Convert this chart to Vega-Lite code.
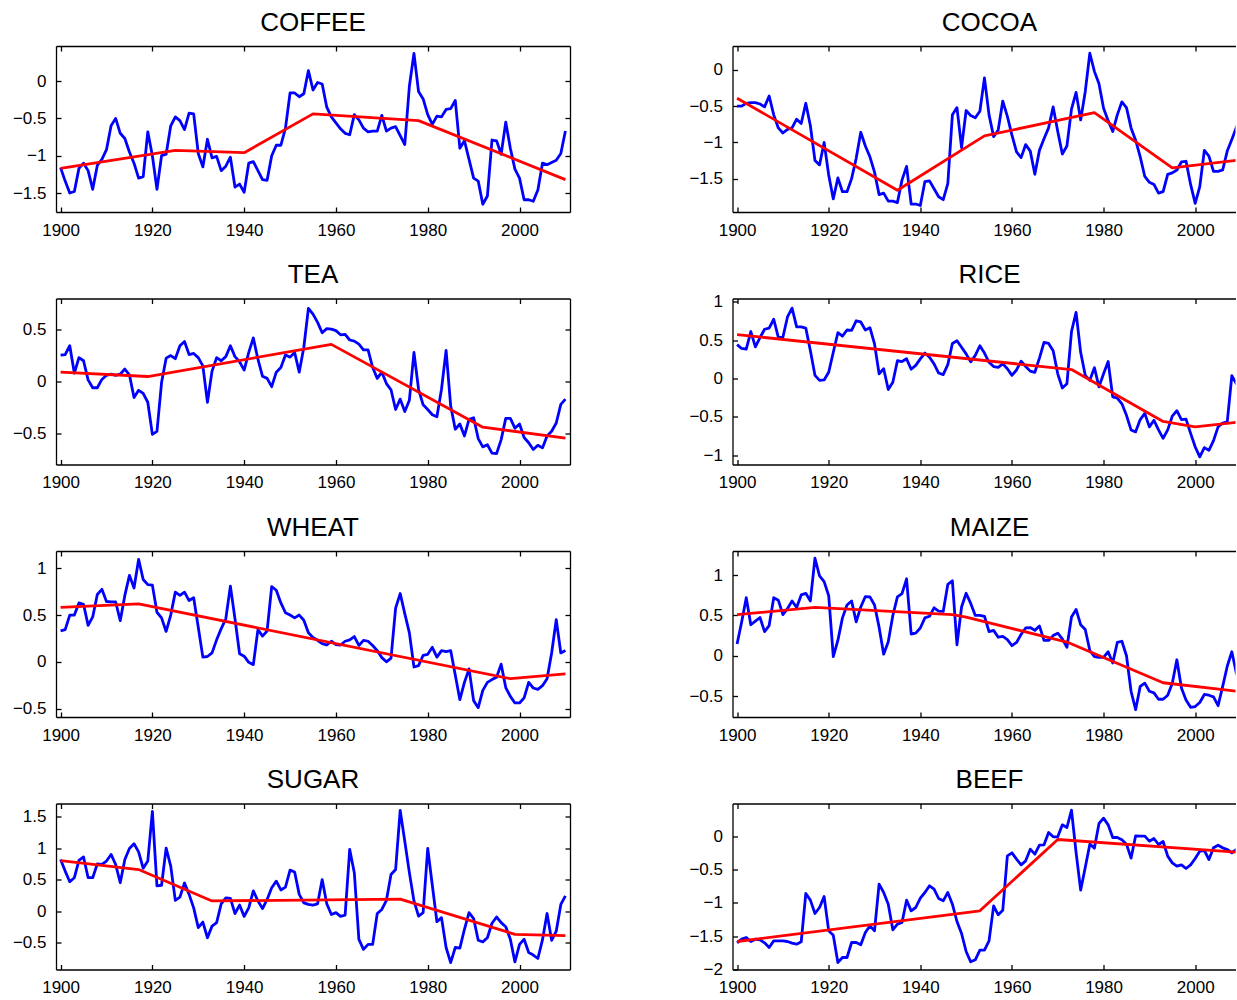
{
"$schema": "https://vega.github.io/schema/vega-lite/v6.json",
"padding": {"left": 12, "top": 9, "right": 0, "bottom": 2},
"background": "white",
"datasets": {
"COFFEE": [{"year":1900,"v":-1.16},{"year":1901,"v":-1.34},{"year":1902,"v":-1.5},{"year":1903,"v":-1.48},{"year":1904,"v":-1.17},{"year":1905,"v":-1.1},{"year":1906,"v":-1.2},{"year":1907,"v":-1.45},{"year":1908,"v":-1.13},{"year":1909,"v":-1.05},
{"year":1910,"v":-0.92},{"year":1911,"v":-0.6},{"year":1912,"v":-0.5},{"year":1913,"v":-0.7},{"year":1914,"v":-0.77},{"year":1915,"v":-0.95},{"year":1916,"v":-1.1},{"year":1917,"v":-1.3},{"year":1918,"v":-1.28},{"year":1919,"v":-0.68},
{"year":1920,"v":-1.0},{"year":1921,"v":-1.45},{"year":1922,"v":-1.0},{"year":1923,"v":-0.98},{"year":1924,"v":-0.6},{"year":1925,"v":-0.48},{"year":1926,"v":-0.53},{"year":1927,"v":-0.65},{"year":1928,"v":-0.43},{"year":1929,"v":-0.44},
{"year":1930,"v":-0.97},{"year":1931,"v":-1.15},{"year":1932,"v":-0.78},{"year":1933,"v":-1.03},{"year":1934,"v":-1.01},{"year":1935,"v":-1.2},{"year":1936,"v":-1.14},{"year":1937,"v":-1.02},{"year":1938,"v":-1.42},{"year":1939,"v":-1.38},
{"year":1940,"v":-1.49},{"year":1941,"v":-1.1},{"year":1942,"v":-1.08},{"year":1943,"v":-1.2},{"year":1944,"v":-1.32},{"year":1945,"v":-1.33},{"year":1946,"v":-1.0},{"year":1947,"v":-0.86},{"year":1948,"v":-0.86},{"year":1949,"v":-0.63},
{"year":1950,"v":-0.16},{"year":1951,"v":-0.16},{"year":1952,"v":-0.21},{"year":1953,"v":-0.17},{"year":1954,"v":0.14},{"year":1955,"v":-0.12},{"year":1956,"v":-0.02},{"year":1957,"v":-0.04},{"year":1958,"v":-0.35},{"year":1959,"v":-0.48},
{"year":1960,"v":-0.56},{"year":1961,"v":-0.64},{"year":1962,"v":-0.7},{"year":1963,"v":-0.72},{"year":1964,"v":-0.45},{"year":1965,"v":-0.52},{"year":1966,"v":-0.63},{"year":1967,"v":-0.68},{"year":1968,"v":-0.67},{"year":1969,"v":-0.67},
{"year":1970,"v":-0.46},{"year":1971,"v":-0.67},{"year":1972,"v":-0.63},{"year":1973,"v":-0.61},{"year":1974,"v":-0.73},{"year":1975,"v":-0.85},{"year":1976,"v":-0.07},{"year":1977,"v":0.37},{"year":1978,"v":-0.14},{"year":1979,"v":-0.24},
{"year":1980,"v":-0.45},{"year":1981,"v":-0.58},{"year":1982,"v":-0.47},{"year":1983,"v":-0.48},{"year":1984,"v":-0.38},{"year":1985,"v":-0.37},{"year":1986,"v":-0.26},{"year":1987,"v":-0.9},{"year":1988,"v":-0.8},{"year":1989,"v":-1.05},
{"year":1990,"v":-1.3},{"year":1991,"v":-1.34},{"year":1992,"v":-1.65},{"year":1993,"v":-1.54},{"year":1994,"v":-0.79},{"year":1995,"v":-0.8},{"year":1996,"v":-0.98},{"year":1997,"v":-0.55},{"year":1998,"v":-0.9},{"year":1999,"v":-1.18},
{"year":2000,"v":-1.3},{"year":2001,"v":-1.59},{"year":2002,"v":-1.59},{"year":2003,"v":-1.61},{"year":2004,"v":-1.46},{"year":2005,"v":-1.1},{"year":2006,"v":-1.12},{"year":2007,"v":-1.09},{"year":2008,"v":-1.06},{"year":2009,"v":-0.97},{"year":2010,"v":-0.67}],
"COFFEE_trend": [{"year":1900,"v":-1.17},{"year":1925,"v":-0.93},{"year":1940,"v":-0.96},{"year":1955,"v":-0.44},{"year":1978,"v":-0.53},{"year":2010,"v":-1.32}],
"COCOA": [{"year":1900,"v":-0.5},{"year":1901,"v":-0.5},{"year":1902,"v":-0.46},{"year":1903,"v":-0.45},{"year":1904,"v":-0.45},{"year":1905,"v":-0.47},{"year":1906,"v":-0.51},{"year":1907,"v":-0.36},{"year":1908,"v":-0.62},{"year":1909,"v":-0.8},
{"year":1910,"v":-0.87},{"year":1911,"v":-0.82},{"year":1912,"v":-0.8},{"year":1913,"v":-0.68},{"year":1914,"v":-0.74},{"year":1915,"v":-0.46},{"year":1916,"v":-0.77},{"year":1917,"v":-1.25},{"year":1918,"v":-1.31},{"year":1919,"v":-1.0},
{"year":1920,"v":-1.45},{"year":1921,"v":-1.78},{"year":1922,"v":-1.49},{"year":1923,"v":-1.68},{"year":1924,"v":-1.68},{"year":1925,"v":-1.5},{"year":1926,"v":-1.22},{"year":1927,"v":-0.86},{"year":1928,"v":-1.05},{"year":1929,"v":-1.2},
{"year":1930,"v":-1.41},{"year":1931,"v":-1.72},{"year":1932,"v":-1.7},{"year":1933,"v":-1.81},{"year":1934,"v":-1.81},{"year":1935,"v":-1.83},{"year":1936,"v":-1.52},{"year":1937,"v":-1.33},{"year":1938,"v":-1.85},{"year":1939,"v":-1.85},
{"year":1940,"v":-1.87},{"year":1941,"v":-1.54},{"year":1942,"v":-1.53},{"year":1943,"v":-1.64},{"year":1944,"v":-1.75},{"year":1945,"v":-1.79},{"year":1946,"v":-1.57},{"year":1947,"v":-0.62},{"year":1948,"v":-0.52},{"year":1949,"v":-1.07},
{"year":1950,"v":-0.56},{"year":1951,"v":-0.63},{"year":1952,"v":-0.66},{"year":1953,"v":-0.57},{"year":1954,"v":-0.11},{"year":1955,"v":-0.62},{"year":1956,"v":-0.92},{"year":1957,"v":-0.83},{"year":1958,"v":-0.43},{"year":1959,"v":-0.64},
{"year":1960,"v":-0.9},{"year":1961,"v":-1.13},{"year":1962,"v":-1.21},{"year":1963,"v":-1.03},{"year":1964,"v":-1.12},{"year":1965,"v":-1.44},{"year":1966,"v":-1.11},{"year":1967,"v":-0.95},{"year":1968,"v":-0.8},{"year":1969,"v":-0.51},
{"year":1970,"v":-0.85},{"year":1971,"v":-1.16},{"year":1972,"v":-1.05},{"year":1973,"v":-0.54},{"year":1974,"v":-0.31},{"year":1975,"v":-0.69},{"year":1976,"v":-0.3},{"year":1977,"v":0.23},{"year":1978,"v":-0.02},{"year":1979,"v":-0.19},
{"year":1980,"v":-0.53},{"year":1981,"v":-0.7},{"year":1982,"v":-0.85},{"year":1983,"v":-0.62},{"year":1984,"v":-0.44},{"year":1985,"v":-0.52},{"year":1986,"v":-0.8},{"year":1987,"v":-0.97},{"year":1988,"v":-1.2},{"year":1989,"v":-1.47},
{"year":1990,"v":-1.55},{"year":1991,"v":-1.58},{"year":1992,"v":-1.7},{"year":1993,"v":-1.68},{"year":1994,"v":-1.44},{"year":1995,"v":-1.42},{"year":1996,"v":-1.38},{"year":1997,"v":-1.27},{"year":1998,"v":-1.26},{"year":1999,"v":-1.58},
{"year":2000,"v":-1.84},{"year":2001,"v":-1.61},{"year":2002,"v":-1.11},{"year":2003,"v":-1.19},{"year":2004,"v":-1.4},{"year":2005,"v":-1.4},{"year":2006,"v":-1.38},{"year":2007,"v":-1.12},{"year":2008,"v":-0.96},{"year":2009,"v":-0.79},{"year":2010,"v":-0.62}],
"COCOA_trend": [{"year":1900,"v":-0.39},{"year":1935,"v":-1.66},{"year":1954,"v":-0.91},{"year":1978,"v":-0.59},{"year":1995,"v":-1.35},{"year":2010,"v":-1.24}],
"TEA": [{"year":1900,"v":0.255},{"year":1901,"v":0.26},{"year":1902,"v":0.345},{"year":1903,"v":0.08},{"year":1904,"v":0.23},{"year":1905,"v":0.2},{"year":1906,"v":0.016},{"year":1907,"v":-0.06},{"year":1908,"v":-0.06},{"year":1909,"v":0.02},
{"year":1910,"v":0.06},{"year":1911,"v":0.07},{"year":1912,"v":0.06},{"year":1913,"v":0.07},{"year":1914,"v":0.12},{"year":1915,"v":0.065},{"year":1916,"v":-0.155},{"year":1917,"v":-0.085},{"year":1918,"v":-0.115},{"year":1919,"v":-0.2},
{"year":1920,"v":-0.51},{"year":1921,"v":-0.48},{"year":1922,"v":-0.01},{"year":1923,"v":0.225},{"year":1924,"v":0.25},{"year":1925,"v":0.22},{"year":1926,"v":0.345},{"year":1927,"v":0.385},{"year":1928,"v":0.26},{"year":1929,"v":0.27},
{"year":1930,"v":0.23},{"year":1931,"v":0.15},{"year":1932,"v":-0.2},{"year":1933,"v":0.1},{"year":1934,"v":0.23},{"year":1935,"v":0.2},{"year":1936,"v":0.24},{"year":1937,"v":0.345},{"year":1938,"v":0.24},{"year":1939,"v":0.19},
{"year":1940,"v":0.11},{"year":1941,"v":0.28},{"year":1942,"v":0.42},{"year":1943,"v":0.215},{"year":1944,"v":0.05},{"year":1945,"v":0.03},{"year":1946,"v":-0.05},{"year":1947,"v":0.09},{"year":1948,"v":0.135},{"year":1949,"v":0.255},
{"year":1950,"v":0.235},{"year":1951,"v":0.28},{"year":1952,"v":0.09},{"year":1953,"v":0.33},{"year":1954,"v":0.705},{"year":1955,"v":0.65},{"year":1956,"v":0.57},{"year":1957,"v":0.47},{"year":1958,"v":0.51},{"year":1959,"v":0.505},
{"year":1960,"v":0.49},{"year":1961,"v":0.45},{"year":1962,"v":0.455},{"year":1963,"v":0.4},{"year":1964,"v":0.39},{"year":1965,"v":0.36},{"year":1966,"v":0.305},{"year":1967,"v":0.305},{"year":1968,"v":0.135},{"year":1969,"v":0.03},
{"year":1970,"v":0.09},{"year":1971,"v":-0.02},{"year":1972,"v":-0.08},{"year":1973,"v":-0.27},{"year":1974,"v":-0.17},{"year":1975,"v":-0.29},{"year":1976,"v":-0.18},{"year":1977,"v":0.28},{"year":1978,"v":-0.075},{"year":1979,"v":-0.225},
{"year":1980,"v":-0.27},{"year":1981,"v":-0.32},{"year":1982,"v":-0.34},{"year":1983,"v":-0.075},{"year":1984,"v":0.3},{"year":1985,"v":-0.235},{"year":1986,"v":-0.46},{"year":1987,"v":-0.41},{"year":1988,"v":-0.525},{"year":1989,"v":-0.365},
{"year":1990,"v":-0.35},{"year":1991,"v":-0.55},{"year":1992,"v":-0.63},{"year":1993,"v":-0.61},{"year":1994,"v":-0.69},{"year":1995,"v":-0.695},{"year":1996,"v":-0.56},{"year":1997,"v":-0.355},{"year":1998,"v":-0.355},{"year":1999,"v":-0.45},
{"year":2000,"v":-0.41},{"year":2001,"v":-0.54},{"year":2002,"v":-0.59},{"year":2003,"v":-0.655},{"year":2004,"v":-0.615},{"year":2005,"v":-0.64},{"year":2006,"v":-0.525},{"year":2007,"v":-0.48},{"year":2008,"v":-0.4},{"year":2009,"v":-0.22},{"year":2010,"v":-0.17}],
"TEA_trend": [{"year":1900,"v":0.09},{"year":1919,"v":0.048},{"year":1959,"v":0.358},{"year":1992,"v":-0.44},{"year":2010,"v":-0.545}],
"RICE": [{"year":1900,"v":0.44},{"year":1901,"v":0.39},{"year":1902,"v":0.38},{"year":1903,"v":0.61},{"year":1904,"v":0.41},{"year":1905,"v":0.53},{"year":1906,"v":0.64},{"year":1907,"v":0.655},{"year":1908,"v":0.77},{"year":1909,"v":0.535},
{"year":1910,"v":0.535},{"year":1911,"v":0.8},{"year":1912,"v":0.915},{"year":1913,"v":0.67},{"year":1914,"v":0.67},{"year":1915,"v":0.655},{"year":1916,"v":0.36},{"year":1917,"v":0.04},{"year":1918,"v":-0.025},{"year":1919,"v":-0.02},
{"year":1920,"v":0.08},{"year":1921,"v":0.34},{"year":1922,"v":0.595},{"year":1923,"v":0.55},{"year":1924,"v":0.63},{"year":1925,"v":0.625},{"year":1926,"v":0.75},{"year":1927,"v":0.735},{"year":1928,"v":0.63},{"year":1929,"v":0.66},
{"year":1930,"v":0.45},{"year":1931,"v":0.06},{"year":1932,"v":0.125},{"year":1933,"v":-0.145},{"year":1934,"v":-0.05},{"year":1935,"v":0.23},{"year":1936,"v":0.22},{"year":1937,"v":0.255},{"year":1938,"v":0.12},{"year":1939,"v":0.17},
{"year":1940,"v":0.255},{"year":1941,"v":0.33},{"year":1942,"v":0.275},{"year":1943,"v":0.19},{"year":1944,"v":0.07},{"year":1945,"v":0.05},{"year":1946,"v":0.18},{"year":1947,"v":0.455},{"year":1948,"v":0.49},{"year":1949,"v":0.405},
{"year":1950,"v":0.32},{"year":1951,"v":0.215},{"year":1952,"v":0.3},{"year":1953,"v":0.425},{"year":1954,"v":0.33},{"year":1955,"v":0.21},{"year":1956,"v":0.155},{"year":1957,"v":0.145},{"year":1958,"v":0.19},{"year":1959,"v":0.125},
{"year":1960,"v":0.04},{"year":1961,"v":0.11},{"year":1962,"v":0.225},{"year":1963,"v":0.155},{"year":1964,"v":0.095},{"year":1965,"v":0.08},{"year":1966,"v":0.265},{"year":1967,"v":0.47},{"year":1968,"v":0.455},{"year":1969,"v":0.36},
{"year":1970,"v":0.06},{"year":1971,"v":-0.125},{"year":1972,"v":-0.07},{"year":1973,"v":0.61},{"year":1974,"v":0.86},{"year":1975,"v":0.34},{"year":1976,"v":0.04},{"year":1977,"v":-0.025},{"year":1978,"v":0.14},{"year":1979,"v":-0.11},
{"year":1980,"v":0.06},{"year":1981,"v":0.22},{"year":1982,"v":-0.24},{"year":1983,"v":-0.255},{"year":1984,"v":-0.33},{"year":1985,"v":-0.48},{"year":1986,"v":-0.67},{"year":1987,"v":-0.695},{"year":1988,"v":-0.535},{"year":1989,"v":-0.455},
{"year":1990,"v":-0.63},{"year":1991,"v":-0.545},{"year":1992,"v":-0.67},{"year":1993,"v":-0.78},{"year":1994,"v":-0.67},{"year":1995,"v":-0.49},{"year":1996,"v":-0.42},{"year":1997,"v":-0.535},{"year":1998,"v":-0.53},{"year":1999,"v":-0.715},
{"year":2000,"v":-0.89},{"year":2001,"v":-1.02},{"year":2002,"v":-0.9},{"year":2003,"v":-0.935},{"year":2004,"v":-0.81},{"year":2005,"v":-0.63},{"year":2006,"v":-0.58},{"year":2007,"v":-0.565},{"year":2008,"v":0.035},{"year":2009,"v":-0.07},{"year":2010,"v":-0.1}],
"RICE_trend": [{"year":1900,"v":0.57},{"year":1973,"v":0.115},{"year":1993,"v":-0.56},{"year":2000,"v":-0.63},{"year":2010,"v":-0.565}],
"WHEAT": [{"year":1900,"v":0.33},{"year":1901,"v":0.345},{"year":1902,"v":0.5},{"year":1903,"v":0.5},{"year":1904,"v":0.63},{"year":1905,"v":0.615},{"year":1906,"v":0.39},{"year":1907,"v":0.48},{"year":1908,"v":0.72},{"year":1909,"v":0.775},
{"year":1910,"v":0.645},{"year":1911,"v":0.64},{"year":1912,"v":0.64},{"year":1913,"v":0.44},{"year":1914,"v":0.71},{"year":1915,"v":0.925},{"year":1916,"v":0.79},{"year":1917,"v":1.095},{"year":1918,"v":0.88},{"year":1919,"v":0.825},
{"year":1920,"v":0.82},{"year":1921,"v":0.53},{"year":1922,"v":0.47},{"year":1923,"v":0.325},{"year":1924,"v":0.5},{"year":1925,"v":0.745},{"year":1926,"v":0.71},{"year":1927,"v":0.745},{"year":1928,"v":0.655},{"year":1929,"v":0.685},
{"year":1930,"v":0.37},{"year":1931,"v":0.05},{"year":1932,"v":0.057},{"year":1933,"v":0.096},{"year":1934,"v":0.235},{"year":1935,"v":0.355},{"year":1936,"v":0.46},{"year":1937,"v":0.81},{"year":1938,"v":0.46},{"year":1939,"v":0.086},
{"year":1940,"v":0.06},{"year":1941,"v":-0.005},{"year":1942,"v":-0.03},{"year":1943,"v":0.345},{"year":1944,"v":0.275},{"year":1945,"v":0.33},{"year":1946,"v":0.805},{"year":1947,"v":0.765},{"year":1948,"v":0.63},{"year":1949,"v":0.525},
{"year":1950,"v":0.5},{"year":1951,"v":0.47},{"year":1952,"v":0.5},{"year":1953,"v":0.445},{"year":1954,"v":0.31},{"year":1955,"v":0.26},{"year":1956,"v":0.23},{"year":1957,"v":0.195},{"year":1958,"v":0.18},{"year":1959,"v":0.22},
{"year":1960,"v":0.185},{"year":1961,"v":0.18},{"year":1962,"v":0.22},{"year":1963,"v":0.235},{"year":1964,"v":0.27},{"year":1965,"v":0.175},{"year":1966,"v":0.23},{"year":1967,"v":0.22},{"year":1968,"v":0.175},{"year":1969,"v":0.12},
{"year":1970,"v":0.045},{"year":1971,"v":0.0},{"year":1972,"v":0.04},{"year":1973,"v":0.575},{"year":1974,"v":0.73},{"year":1975,"v":0.515},{"year":1976,"v":0.31},{"year":1977,"v":-0.055},{"year":1978,"v":-0.04},{"year":1979,"v":0.07},
{"year":1980,"v":0.08},{"year":1981,"v":0.155},{"year":1982,"v":0.05},{"year":1983,"v":0.12},{"year":1984,"v":0.11},{"year":1985,"v":0.12},{"year":1986,"v":-0.14},{"year":1987,"v":-0.405},{"year":1988,"v":-0.22},{"year":1989,"v":-0.075},
{"year":1990,"v":-0.415},{"year":1991,"v":-0.49},{"year":1992,"v":-0.305},{"year":1993,"v":-0.22},{"year":1994,"v":-0.19},{"year":1995,"v":-0.165},{"year":1996,"v":-0.025},{"year":1997,"v":-0.275},{"year":1998,"v":-0.37},{"year":1999,"v":-0.44},
{"year":2000,"v":-0.44},{"year":2001,"v":-0.385},{"year":2002,"v":-0.22},{"year":2003,"v":-0.28},{"year":2004,"v":-0.295},{"year":2005,"v":-0.255},{"year":2006,"v":-0.18},{"year":2007,"v":0.095},{"year":2008,"v":0.45},{"year":2009,"v":0.095},{"year":2010,"v":0.12}],
"WHEAT_trend": [{"year":1900,"v":0.582},{"year":1917,"v":0.62},{"year":1998,"v":-0.18},{"year":2010,"v":-0.13}],
"MAIZE": [{"year":1900,"v":0.145},{"year":1901,"v":0.42},{"year":1902,"v":0.72},{"year":1903,"v":0.385},{"year":1904,"v":0.43},{"year":1905,"v":0.475},{"year":1906,"v":0.3},{"year":1907,"v":0.375},{"year":1908,"v":0.72},{"year":1909,"v":0.69},
{"year":1910,"v":0.51},{"year":1911,"v":0.585},{"year":1912,"v":0.68},{"year":1913,"v":0.6},{"year":1914,"v":0.755},{"year":1915,"v":0.775},{"year":1916,"v":0.68},{"year":1917,"v":1.21},{"year":1918,"v":0.99},{"year":1919,"v":0.92},
{"year":1920,"v":0.745},{"year":1921,"v":-0.01},{"year":1922,"v":0.19},{"year":1923,"v":0.47},{"year":1924,"v":0.63},{"year":1925,"v":0.68},{"year":1926,"v":0.42},{"year":1927,"v":0.605},{"year":1928,"v":0.735},{"year":1929,"v":0.73},
{"year":1930,"v":0.63},{"year":1931,"v":0.355},{"year":1932,"v":0.02},{"year":1933,"v":0.175},{"year":1934,"v":0.5},{"year":1935,"v":0.73},{"year":1936,"v":0.77},{"year":1937,"v":0.955},{"year":1938,"v":0.27},{"year":1939,"v":0.28},
{"year":1940,"v":0.345},{"year":1941,"v":0.47},{"year":1942,"v":0.49},{"year":1943,"v":0.595},{"year":1944,"v":0.555},{"year":1945,"v":0.55},{"year":1946,"v":0.885},{"year":1947,"v":0.93},{"year":1948,"v":0.135},{"year":1949,"v":0.605},
{"year":1950,"v":0.775},{"year":1951,"v":0.65},{"year":1952,"v":0.5},{"year":1953,"v":0.5},{"year":1954,"v":0.49},{"year":1955,"v":0.3},{"year":1956,"v":0.315},{"year":1957,"v":0.23},{"year":1958,"v":0.24},{"year":1959,"v":0.2},
{"year":1960,"v":0.125},{"year":1961,"v":0.165},{"year":1962,"v":0.265},{"year":1963,"v":0.345},{"year":1964,"v":0.35},{"year":1965,"v":0.315},{"year":1966,"v":0.37},{"year":1967,"v":0.19},{"year":1968,"v":0.19},{"year":1969,"v":0.25},
{"year":1970,"v":0.28},{"year":1971,"v":0.21},{"year":1972,"v":0.105},{"year":1973,"v":0.48},{"year":1974,"v":0.575},{"year":1975,"v":0.385},{"year":1976,"v":0.325},{"year":1977,"v":0.065},{"year":1978,"v":-0.01},{"year":1979,"v":-0.02},
{"year":1980,"v":-0.02},{"year":1981,"v":0.05},{"year":1982,"v":-0.09},{"year":1983,"v":0.165},{"year":1984,"v":0.18},{"year":1985,"v":0.0},{"year":1986,"v":-0.44},{"year":1987,"v":-0.67},{"year":1988,"v":-0.38},{"year":1989,"v":-0.34},
{"year":1990,"v":-0.44},{"year":1991,"v":-0.46},{"year":1992,"v":-0.54},{"year":1993,"v":-0.54},{"year":1994,"v":-0.49},{"year":1995,"v":-0.34},{"year":1996,"v":-0.05},{"year":1997,"v":-0.4},{"year":1998,"v":-0.55},{"year":1999,"v":-0.64},
{"year":2000,"v":-0.63},{"year":2001,"v":-0.58},{"year":2002,"v":-0.48},{"year":2003,"v":-0.49},{"year":2004,"v":-0.51},{"year":2005,"v":-0.62},{"year":2006,"v":-0.38},{"year":2007,"v":-0.13},{"year":2008,"v":0.05},{"year":2009,"v":-0.22},{"year":2010,"v":-0.35}],
"MAIZE_trend": [{"year":1900,"v":0.51},{"year":1917,"v":0.6},{"year":1947,"v":0.51},{"year":1950,"v":0.48},{"year":1972,"v":0.17},{"year":1993,"v":-0.335},{"year":2010,"v":-0.445}],
"SUGAR": [{"year":1900,"v":0.82},{"year":1901,"v":0.635},{"year":1902,"v":0.465},{"year":1903,"v":0.53},{"year":1904,"v":0.805},{"year":1905,"v":0.86},{"year":1906,"v":0.53},{"year":1907,"v":0.53},{"year":1908,"v":0.75},{"year":1909,"v":0.74},
{"year":1910,"v":0.795},{"year":1911,"v":0.9},{"year":1912,"v":0.74},{"year":1913,"v":0.45},{"year":1914,"v":0.82},{"year":1915,"v":0.995},{"year":1916,"v":1.07},{"year":1917,"v":0.94},{"year":1918,"v":0.68},{"year":1919,"v":0.795},
{"year":1920,"v":1.585},{"year":1921,"v":0.4},{"year":1922,"v":0.41},{"year":1923,"v":1.0},{"year":1924,"v":0.715},{"year":1925,"v":0.17},{"year":1926,"v":0.22},{"year":1927,"v":0.445},{"year":1928,"v":0.265},{"year":1929,"v":0.05},
{"year":1930,"v":-0.265},{"year":1931,"v":-0.175},{"year":1932,"v":-0.425},{"year":1933,"v":-0.24},{"year":1934,"v":-0.185},{"year":1935,"v":0.115},{"year":1936,"v":0.21},{"year":1937,"v":0.2},{"year":1938,"v":-0.04},{"year":1939,"v":0.095},
{"year":1940,"v":-0.085},{"year":1941,"v":0.05},{"year":1942,"v":0.32},{"year":1943,"v":0.16},{"year":1944,"v":0.04},{"year":1945,"v":0.185},{"year":1946,"v":0.37},{"year":1947,"v":0.475},{"year":1948,"v":0.335},{"year":1949,"v":0.38},
{"year":1950,"v":0.65},{"year":1951,"v":0.62},{"year":1952,"v":0.265},{"year":1953,"v":0.13},{"year":1954,"v":0.105},{"year":1955,"v":0.095},{"year":1956,"v":0.115},{"year":1957,"v":0.5},{"year":1958,"v":0.115},{"year":1959,"v":-0.055},
{"year":1960,"v":-0.025},{"year":1961,"v":-0.085},{"year":1962,"v":-0.065},{"year":1963,"v":0.98},{"year":1964,"v":0.61},{"year":1965,"v":-0.45},{"year":1966,"v":-0.61},{"year":1967,"v":-0.53},{"year":1968,"v":-0.53},{"year":1969,"v":-0.04},
{"year":1970,"v":0.025},{"year":1971,"v":0.17},{"year":1972,"v":0.58},{"year":1973,"v":0.66},{"year":1974,"v":1.6},{"year":1975,"v":1.11},{"year":1976,"v":0.61},{"year":1977,"v":0.16},{"year":1978,"v":-0.08},{"year":1979,"v":-0.025},
{"year":1980,"v":0.995},{"year":1981,"v":0.41},{"year":1982,"v":-0.17},{"year":1983,"v":-0.105},{"year":1984,"v":-0.58},{"year":1985,"v":-0.82},{"year":1986,"v":-0.58},{"year":1987,"v":-0.59},{"year":1988,"v":-0.29},{"year":1989,"v":-0.025},
{"year":1990,"v":-0.12},{"year":1991,"v":-0.465},{"year":1992,"v":-0.49},{"year":1993,"v":-0.425},{"year":1994,"v":-0.195},{"year":1995,"v":-0.095},{"year":1996,"v":-0.185},{"year":1997,"v":-0.25},{"year":1998,"v":-0.45},{"year":1999,"v":-0.81},
{"year":2000,"v":-0.53},{"year":2001,"v":-0.45},{"year":2002,"v":-0.66},{"year":2003,"v":-0.7},{"year":2004,"v":-0.755},{"year":2005,"v":-0.46},{"year":2006,"v":-0.04},{"year":2007,"v":-0.465},{"year":2008,"v":-0.32},{"year":2009,"v":0.105},{"year":2010,"v":0.24}],
"SUGAR_trend": [{"year":1900,"v":0.8},{"year":1917,"v":0.66},{"year":1933,"v":0.16},{"year":1974,"v":0.19},{"year":1999,"v":-0.37},{"year":2010,"v":-0.39}],
"BEEF": [{"year":1900,"v":-1.6},{"year":1901,"v":-1.545},{"year":1902,"v":-1.52},{"year":1903,"v":-1.58},{"year":1904,"v":-1.545},{"year":1905,"v":-1.555},{"year":1906,"v":-1.6},{"year":1907,"v":-1.67},{"year":1908,"v":-1.57},{"year":1909,"v":-1.57},
{"year":1910,"v":-1.57},{"year":1911,"v":-1.58},{"year":1912,"v":-1.605},{"year":1913,"v":-1.62},{"year":1914,"v":-1.585},{"year":1915,"v":-0.86},{"year":1916,"v":-0.96},{"year":1917,"v":-1.16},{"year":1918,"v":-1.07},{"year":1919,"v":-0.905},
{"year":1920,"v":-1.42},{"year":1921,"v":-1.485},{"year":1922,"v":-1.895},{"year":1923,"v":-1.82},{"year":1924,"v":-1.82},{"year":1925,"v":-1.595},{"year":1926,"v":-1.595},{"year":1927,"v":-1.63},{"year":1928,"v":-1.445},{"year":1929,"v":-1.345},
{"year":1930,"v":-1.42},{"year":1931,"v":-0.72},{"year":1932,"v":-0.845},{"year":1933,"v":-1.02},{"year":1934,"v":-1.405},{"year":1935,"v":-1.32},{"year":1936,"v":-1.295},{"year":1937,"v":-0.96},{"year":1938,"v":-1.12},{"year":1939,"v":-1.07},
{"year":1940,"v":-0.93},{"year":1941,"v":-0.845},{"year":1942,"v":-0.745},{"year":1943,"v":-0.795},{"year":1944,"v":-0.935},{"year":1945,"v":-0.97},{"year":1946,"v":-0.845},{"year":1947,"v":-1.02},{"year":1948,"v":-1.28},{"year":1949,"v":-1.46},
{"year":1950,"v":-1.73},{"year":1951,"v":-1.885},{"year":1952,"v":-1.855},{"year":1953,"v":-1.71},{"year":1954,"v":-1.71},{"year":1955,"v":-1.57},{"year":1956,"v":-1.045},{"year":1957,"v":-1.18},{"year":1958,"v":-1.11},{"year":1959,"v":-0.295},
{"year":1960,"v":-0.25},{"year":1961,"v":-0.345},{"year":1962,"v":-0.43},{"year":1963,"v":-0.37},{"year":1964,"v":-0.195},{"year":1965,"v":-0.27},{"year":1966,"v":-0.135},{"year":1967,"v":-0.13},{"year":1968,"v":0.055},{"year":1969,"v":-0.01},
{"year":1970,"v":-0.01},{"year":1971,"v":0.17},{"year":1972,"v":0.13},{"year":1973,"v":0.39},{"year":1974,"v":-0.245},{"year":1975,"v":-0.81},{"year":1976,"v":-0.47},{"year":1977,"v":-0.12},{"year":1978,"v":-0.18},{"year":1979,"v":0.19},
{"year":1980,"v":0.27},{"year":1981,"v":0.17},{"year":1982,"v":-0.02},{"year":1983,"v":-0.02},{"year":1984,"v":-0.055},{"year":1985,"v":-0.12},{"year":1986,"v":-0.33},{"year":1987,"v":0.005},{"year":1988,"v":0.0},{"year":1989,"v":0.0},
{"year":1990,"v":-0.075},{"year":1991,"v":-0.035},{"year":1992,"v":-0.125},{"year":1993,"v":-0.08},{"year":1994,"v":-0.3},{"year":1995,"v":-0.4},{"year":1996,"v":-0.45},{"year":1997,"v":-0.43},{"year":1998,"v":-0.485},{"year":1999,"v":-0.43},
{"year":2000,"v":-0.335},{"year":2001,"v":-0.225},{"year":2002,"v":-0.215},{"year":2003,"v":-0.35},{"year":2004,"v":-0.175},{"year":2005,"v":-0.135},{"year":2006,"v":-0.175},{"year":2007,"v":-0.2},{"year":2008,"v":-0.25},{"year":2009,"v":-0.2},{"year":2010,"v":-0.2}],
"BEEF_trend": [{"year":1900,"v":-1.58},{"year":1953,"v":-1.12},{"year":1970,"v":-0.05},{"year":2010,"v":-0.245}]
},
"columns": 2,
"spacing": {"row": 86.5, "column": 162.5},
"bounds": "flush",
"align": "all",
"concat": [
{"title": "COFFEE", "width": 514, "height": 166,
 "layer": [
  {"data": {"name": "COFFEE"}, "mark": {"type": "line", "color": "#0000ff", "strokeWidth": 2.8, "strokeJoin": "round", "clip": true},
   "encoding": {"x": {"field": "year", "type": "quantitative", "scale": {"domain": [1899, 2011], "nice": false, "zero": false}, "axis": {"orient": "bottom", "values": [1900,1920,1940,1960,1980,2000], "format": "d", "title": null}},
                "y": {"field": "v", "type": "quantitative", "scale": {"domain": [-1.754, 0.469], "nice": false, "zero": false}, "axis": {"orient": "left", "values": [-1.5,-1,-0.5,0], "format": "~g", "title": null}}}},
  {"data": {"name": "COFFEE_trend"}, "mark": {"type": "line", "color": "#ff0000", "strokeWidth": 2.8, "strokeJoin": "round", "clip": true},
   "encoding": {"x": {"field": "year", "type": "quantitative", "scale": {"domain": [1899, 2011], "nice": false, "zero": false}, "axis": {"orient": "top", "values": [1900,1920,1940,1960,1980,2000], "labels": false, "title": null}},
                "y": {"field": "v", "type": "quantitative", "scale": {"domain": [-1.754, 0.469], "nice": false, "zero": false}, "axis": {"orient": "right", "values": [-1.5,-1,-0.5,0], "labels": false, "title": null}}}}
 ],
 "resolve": {"axis": {"x": "independent", "y": "independent"}}},
{"title": {"text": "COCOA", "dx": 5.5}, "width": 503, "height": 166,
 "layer": [
  {"data": {"name": "COCOA"}, "mark": {"type": "line", "color": "#0000ff", "strokeWidth": 2.8, "strokeJoin": "round", "clip": true},
   "encoding": {"x": {"field": "year", "type": "quantitative", "scale": {"domain": [1899, 2008.8], "nice": false, "zero": false}, "axis": {"orient": "bottom", "values": [1900,1920,1940,1960,1980,2000], "format": "d", "title": null}},
                "y": {"field": "v", "type": "quantitative", "scale": {"domain": [-1.96, 0.33], "nice": false, "zero": false}, "axis": {"orient": "left", "values": [-1.5,-1,-0.5,0], "format": "~g", "title": null}}}},
  {"data": {"name": "COCOA_trend"}, "mark": {"type": "line", "color": "#ff0000", "strokeWidth": 2.8, "strokeJoin": "round", "clip": true},
   "encoding": {"x": {"field": "year", "type": "quantitative", "scale": {"domain": [1899, 2008.8], "nice": false, "zero": false}, "axis": {"orient": "top", "values": [1900,1920,1940,1960,1980,2000], "labels": false, "title": null}},
                "y": {"field": "v", "type": "quantitative", "scale": {"domain": [-1.96, 0.33], "nice": false, "zero": false}, "axis": null}}}
 ],
 "resolve": {"axis": {"x": "independent", "y": "independent"}}},
{"title": "TEA", "width": 514, "height": 166,
 "layer": [
  {"data": {"name": "TEA"}, "mark": {"type": "line", "color": "#0000ff", "strokeWidth": 2.8, "strokeJoin": "round", "clip": true},
   "encoding": {"x": {"field": "year", "type": "quantitative", "scale": {"domain": [1899, 2011], "nice": false, "zero": false}, "axis": {"orient": "bottom", "values": [1900,1920,1940,1960,1980,2000], "format": "d", "title": null}},
                "y": {"field": "v", "type": "quantitative", "scale": {"domain": [-0.8, 0.8], "nice": false, "zero": false}, "axis": {"orient": "left", "values": [-0.5,0,0.5], "format": "~g", "title": null}}}},
  {"data": {"name": "TEA_trend"}, "mark": {"type": "line", "color": "#ff0000", "strokeWidth": 2.8, "strokeJoin": "round", "clip": true},
   "encoding": {"x": {"field": "year", "type": "quantitative", "scale": {"domain": [1899, 2011], "nice": false, "zero": false}, "axis": {"orient": "top", "values": [1900,1920,1940,1960,1980,2000], "labels": false, "title": null}},
                "y": {"field": "v", "type": "quantitative", "scale": {"domain": [-0.8, 0.8], "nice": false, "zero": false}, "axis": {"orient": "right", "values": [-0.5,0,0.5], "labels": false, "title": null}}}}
 ],
 "resolve": {"axis": {"x": "independent", "y": "independent"}}},
{"title": {"text": "RICE", "dy": 5, "dx": 5.5}, "width": 503, "height": 166,
 "layer": [
  {"data": {"name": "RICE"}, "mark": {"type": "line", "color": "#0000ff", "strokeWidth": 2.8, "strokeJoin": "round", "clip": true},
   "encoding": {"x": {"field": "year", "type": "quantitative", "scale": {"domain": [1899, 2008.8], "nice": false, "zero": false}, "axis": {"orient": "bottom", "values": [1900,1920,1940,1960,1980,2000], "format": "d", "title": null}},
                "y": {"field": "v", "type": "quantitative", "scale": {"domain": [-1.12, 1.04], "nice": false, "zero": false}, "axis": {"orient": "left", "values": [-1,-0.5,0,0.5,1], "format": "~g", "title": null}}}},
  {"data": {"name": "RICE_trend"}, "mark": {"type": "line", "color": "#ff0000", "strokeWidth": 2.8, "strokeJoin": "round", "clip": true},
   "encoding": {"x": {"field": "year", "type": "quantitative", "scale": {"domain": [1899, 2008.8], "nice": false, "zero": false}, "axis": {"orient": "top", "values": [1900,1920,1940,1960,1980,2000], "labels": false, "title": null}},
                "y": {"field": "v", "type": "quantitative", "scale": {"domain": [-1.12, 1.04], "nice": false, "zero": false}, "axis": null}}}
 ],
 "resolve": {"axis": {"x": "independent", "y": "independent"}}},
{"title": "WHEAT", "width": 514, "height": 166,
 "layer": [
  {"data": {"name": "WHEAT"}, "mark": {"type": "line", "color": "#0000ff", "strokeWidth": 2.8, "strokeJoin": "round", "clip": true},
   "encoding": {"x": {"field": "year", "type": "quantitative", "scale": {"domain": [1899, 2011], "nice": false, "zero": false}, "axis": {"orient": "bottom", "values": [1900,1920,1940,1960,1980,2000], "format": "d", "title": null}},
                "y": {"field": "v", "type": "quantitative", "scale": {"domain": [-0.59, 1.185], "nice": false, "zero": false}, "axis": {"orient": "left", "values": [-0.5,0,0.5,1], "format": "~g", "title": null}}}},
  {"data": {"name": "WHEAT_trend"}, "mark": {"type": "line", "color": "#ff0000", "strokeWidth": 2.8, "strokeJoin": "round", "clip": true},
   "encoding": {"x": {"field": "year", "type": "quantitative", "scale": {"domain": [1899, 2011], "nice": false, "zero": false}, "axis": {"orient": "top", "values": [1900,1920,1940,1960,1980,2000], "labels": false, "title": null}},
                "y": {"field": "v", "type": "quantitative", "scale": {"domain": [-0.59, 1.185], "nice": false, "zero": false}, "axis": {"orient": "right", "values": [-0.5,0,0.5,1], "labels": false, "title": null}}}}
 ],
 "resolve": {"axis": {"x": "independent", "y": "independent"}}},
{"title": {"text": "MAIZE", "dx": 5.5}, "width": 503, "height": 166,
 "layer": [
  {"data": {"name": "MAIZE"}, "mark": {"type": "line", "color": "#0000ff", "strokeWidth": 2.8, "strokeJoin": "round", "clip": true},
   "encoding": {"x": {"field": "year", "type": "quantitative", "scale": {"domain": [1899, 2008.8], "nice": false, "zero": false}, "axis": {"orient": "bottom", "values": [1900,1920,1940,1960,1980,2000], "format": "d", "title": null}},
                "y": {"field": "v", "type": "quantitative", "scale": {"domain": [-0.76, 1.3], "nice": false, "zero": false}, "axis": {"orient": "left", "values": [-0.5,0,0.5,1], "format": "~g", "title": null}}}},
  {"data": {"name": "MAIZE_trend"}, "mark": {"type": "line", "color": "#ff0000", "strokeWidth": 2.8, "strokeJoin": "round", "clip": true},
   "encoding": {"x": {"field": "year", "type": "quantitative", "scale": {"domain": [1899, 2008.8], "nice": false, "zero": false}, "axis": {"orient": "top", "values": [1900,1920,1940,1960,1980,2000], "labels": false, "title": null}},
                "y": {"field": "v", "type": "quantitative", "scale": {"domain": [-0.76, 1.3], "nice": false, "zero": false}, "axis": null}}}
 ],
 "resolve": {"axis": {"x": "independent", "y": "independent"}}},
{"title": "SUGAR", "width": 514, "height": 166,
 "layer": [
  {"data": {"name": "SUGAR"}, "mark": {"type": "line", "color": "#0000ff", "strokeWidth": 2.8, "strokeJoin": "round", "clip": true},
   "encoding": {"x": {"field": "year", "type": "quantitative", "scale": {"domain": [1899, 2011], "nice": false, "zero": false}, "axis": {"orient": "bottom", "values": [1900,1920,1940,1960,1980,2000], "format": "d", "title": null}},
                "y": {"field": "v", "type": "quantitative", "scale": {"domain": [-0.93, 1.71], "nice": false, "zero": false}, "axis": {"orient": "left", "values": [-0.5,0,0.5,1,1.5], "format": "~g", "title": null}}}},
  {"data": {"name": "SUGAR_trend"}, "mark": {"type": "line", "color": "#ff0000", "strokeWidth": 2.8, "strokeJoin": "round", "clip": true},
   "encoding": {"x": {"field": "year", "type": "quantitative", "scale": {"domain": [1899, 2011], "nice": false, "zero": false}, "axis": {"orient": "top", "values": [1900,1920,1940,1960,1980,2000], "labels": false, "title": null}},
                "y": {"field": "v", "type": "quantitative", "scale": {"domain": [-0.93, 1.71], "nice": false, "zero": false}, "axis": {"orient": "right", "values": [-0.5,0,0.5,1,1.5], "labels": false, "title": null}}}}
 ],
 "resolve": {"axis": {"x": "independent", "y": "independent"}}},
{"title": {"text": "BEEF", "dx": 5.5}, "width": 503, "height": 166,
 "layer": [
  {"data": {"name": "BEEF"}, "mark": {"type": "line", "color": "#0000ff", "strokeWidth": 2.8, "strokeJoin": "round", "clip": true},
   "encoding": {"x": {"field": "year", "type": "quantitative", "scale": {"domain": [1899, 2008.8], "nice": false, "zero": false}, "axis": {"orient": "bottom", "values": [1900,1920,1940,1960,1980,2000], "format": "d", "title": null}},
                "y": {"field": "v", "type": "quantitative", "scale": {"domain": [-2.0, 0.49], "nice": false, "zero": false}, "axis": {"orient": "left", "values": [-2,-1.5,-1,-0.5,0], "format": "~g", "title": null}}}},
  {"data": {"name": "BEEF_trend"}, "mark": {"type": "line", "color": "#ff0000", "strokeWidth": 2.8, "strokeJoin": "round", "clip": true},
   "encoding": {"x": {"field": "year", "type": "quantitative", "scale": {"domain": [1899, 2008.8], "nice": false, "zero": false}, "axis": {"orient": "top", "values": [1900,1920,1940,1960,1980,2000], "labels": false, "title": null}},
                "y": {"field": "v", "type": "quantitative", "scale": {"domain": [-2.0, 0.49], "nice": false, "zero": false}, "axis": null}}}
 ],
 "resolve": {"axis": {"x": "independent", "y": "independent"}}}
],
"config": {
 "view": {"stroke": null},
 "axis": {"domainColor": "#000000", "domainWidth": 1.3, "tickColor": "#000000", "tickWidth": 1.3, "tickSize": -5, "labelColor": "#000000", "labelFont": "Liberation Sans", "labelFontSize": 17, "labelPadding": 15, "grid": false, "labelFlush": false, "labelOverlap": false, "labelBound": false},
 "axisX": {"labelPadding": 15},
 "title": {"font": "Liberation Sans", "fontSize": 26, "fontWeight": "normal", "color": "#000000", "anchor": "middle", "frame": "group", "baseline": "alphabetic", "offset": 9.5}
}
}
